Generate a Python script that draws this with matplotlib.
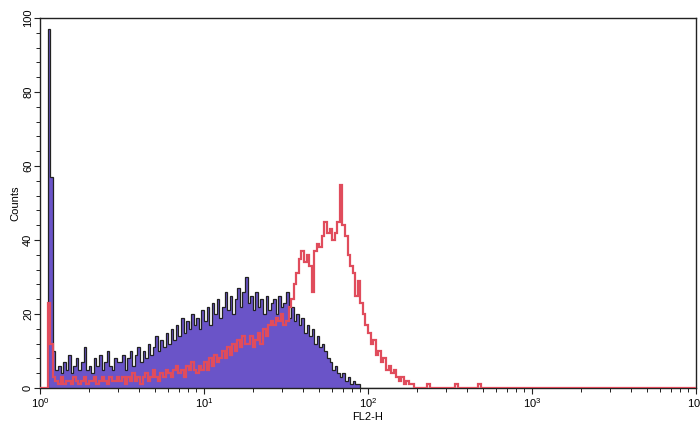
import numpy as np
import matplotlib
matplotlib.use("Agg")
import matplotlib.pyplot as plt
from matplotlib.ticker import MultipleLocator, LogLocator

plt.rcParams['font.family'] = ['Liberation Sans', 'DejaVu Sans']
plt.rcParams['mathtext.default'] = 'regular'

# 256 log channels over 4 decades (FL2-H), counts
n_channels = 256
control = ([0, 0, 0, 97, 57, 10, 5]
           + [6, 4, 7, 5, 9, 4, 6, 8, 5, 7, 11, 5, 6, 4, 8, 6, 9, 5, 7, 10, 6, 5, 8, 7]
           + [7, 9, 5, 8, 10, 6, 9, 11, 7, 10, 8, 12, 9, 11, 14, 10, 13, 11, 15, 12,
              16, 13, 17, 14, 19, 15, 18, 16, 20, 17]
           + [19, 16, 21, 18, 22, 17, 23, 20, 24, 19, 22, 26, 21, 25, 20, 24, 27, 22, 26, 30,
              23, 25, 21, 26, 22, 24, 20, 25, 21, 23]
           + [24, 20, 25, 22, 23, 26, 19, 22, 18, 20]
           + [17, 19, 15, 17, 14, 16, 12, 14, 11, 12, 10, 8, 7, 5, 6, 4, 3, 4, 2, 3,
              1, 2, 1, 1, 0])
sample = ([0, 0, 0, 23, 12, 3]
          + [2, 1, 3, 1, 2, 2, 1, 3, 2, 1, 2, 3, 1, 2, 2, 3, 1, 2, 3, 2, 1, 3, 2, 2, 3]
          + [2, 3, 1, 3, 2, 4, 2, 3, 1, 3, 4, 2, 3, 5, 3, 2, 4, 3, 5, 4, 3, 5, 6, 4, 5,
             3, 6, 5, 7, 5]
          + [4, 6, 5, 7, 5, 8, 6, 9, 7, 8, 10, 8, 11, 9, 12, 10, 13, 11, 14, 12]
          + [12, 14, 11, 13, 15, 12, 16, 14, 17, 18]
          + [17, 19, 18, 20, 17, 18, 22, 24, 28]
          + [31, 35, 37, 34, 36, 33, 26, 37, 39, 38, 41, 45, 42, 43, 40, 42, 45, 55, 44, 41,
             36, 33, 31, 25, 29, 23, 20, 17, 15, 12, 13, 9, 10, 7, 8, 5, 6, 4, 5, 3,
             2, 3, 1, 2, 1, 1]
          + [0, 0, 0, 0, 0, 1] + [0] * 10 + [1] + [0] * 8 + [1])

control = np.array(control + [0] * (n_channels - len(control)), dtype=float)
sample = np.array(sample + [0] * (n_channels - len(sample)), dtype=float)
edges = 10 ** (np.arange(n_channels + 1) * 4.0 / n_channels)

fig = plt.figure(figsize=(7, 4.3), dpi=100)
ax = fig.add_axes([40 / 700, 42 / 430, 656 / 700, 370 / 430])

ax.stairs(control, edges, fill=True, color='#6a54c8', zorder=1)
ax.stairs(control, edges, color='#222222', lw=0.9, zorder=2)
ax.stairs(sample, edges, color='#e04c5c', lw=1.6, zorder=3)

ax.set_xscale('log')
ax.set_xlim(1, 1e4)
ax.set_ylim(0, 100)

ax.yaxis.set_major_locator(MultipleLocator(20))
ax.yaxis.set_minor_locator(MultipleLocator(4))
ax.xaxis.set_major_locator(LogLocator(base=10, numticks=10))
ax.xaxis.set_minor_locator(LogLocator(base=10, subs=np.arange(2, 10), numticks=10))

ax.tick_params(axis='both', which='both', direction='out', labelsize=8, color='#222222')
ax.tick_params(axis='both', which='major', length=4, width=0.8)
ax.tick_params(axis='both', which='minor', length=3, width=0.7)
ax.tick_params(axis='x', which='major', pad=2)
ax.tick_params(axis='y', which='major', pad=1)
for lab in ax.get_yticklabels():
    lab.set_rotation(90)
    lab.set_va('center')

for s in ax.spines.values():
    s.set_linewidth(1.0)
    s.set_color('#222222')

ax.set_xlabel('FL2-H', fontsize=8, labelpad=1)
ax.set_ylabel('Counts', fontsize=8, labelpad=2)

fig.savefig('out.png', dpi=100)
